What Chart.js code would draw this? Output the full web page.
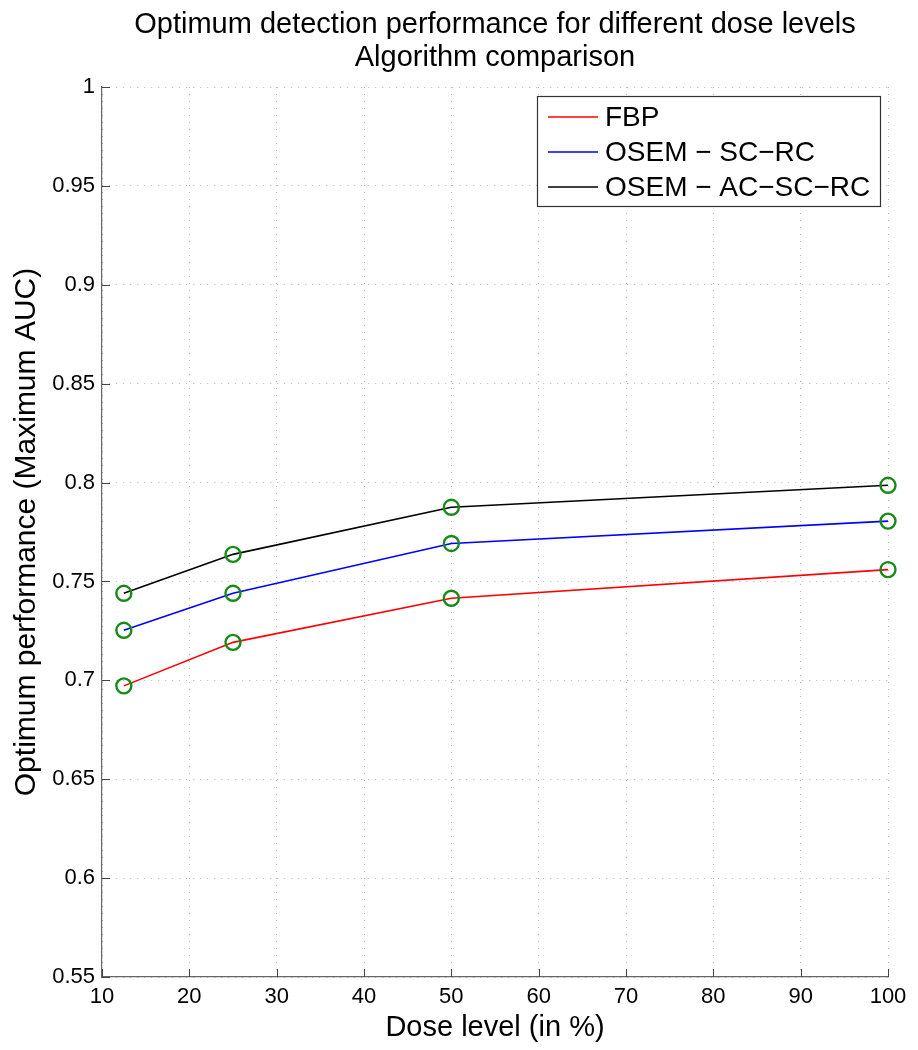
<!DOCTYPE html>
<html>
<head>
<meta charset="utf-8">
<script src="https://cdn.jsdelivr.net/npm/chart.js@4/dist/chart.umd.min.js"></script>
<style>
  html, body { margin: 0; padding: 0; background: #fff; }
  #wrap { width: 918px; height: 1050px; }
</style>
</head>
<body>
<div id="wrap"><canvas id="myChart" width="918" height="1050"></canvas></div>
<script>
// values
const doses = [12.5, 25, 50, 100];
const fbp = [0.6972, 0.7192, 0.7415, 0.7560];
const osemScRc = [0.7253, 0.7440, 0.7692, 0.7805];
const osemAcScRc = [0.7440, 0.7637, 0.7875, 0.7986];

const seriesNames = ['FBP', 'OSEM \u2212 SC\u2212RC', 'OSEM \u2212 AC\u2212SC\u2212RC'];
const seriesColors = ['#ff0000', '#0000ff', '#000000'];

const xTicks = [10, 20, 30, 40, 50, 60, 70, 80, 90, 100];
const yTicks = [0.55, 0.6, 0.65, 0.7, 0.75, 0.8, 0.85, 0.9, 0.95, 1];

const titleLines = ['Optimum detection performance for different dose levels', 'Algorithm comparison'];

const FONT = '"Liberation Sans", Arial, Helvetica, sans-serif';

function toPoints(ys) {
  return doses.map((d, i) => ({ x: d, y: ys[i] }));
}

// two-line title centred over the axes (not over the whole canvas)
const axesTitle = {
  id: 'axesTitle',
  afterDraw(chart) {
    const { ctx, chartArea: a } = chart;
    const cx = (a.left + a.right) / 2;
    ctx.save();
    ctx.font = '29px ' + FONT;
    ctx.fillStyle = '#000';
    ctx.textAlign = 'center';
    ctx.textBaseline = 'middle';
    titleLines.forEach((t, i) => ctx.fillText(t, cx, 25 + i * 33));
    ctx.restore();
  }
};

// MATLAB style: ticks pointing inward on left & bottom axes
const innerTicks = {
  id: 'innerTicks',
  afterDatasetsDraw(chart) {
    const { ctx, chartArea: a, scales } = chart;
    ctx.save();
    ctx.strokeStyle = '#444';
    ctx.lineWidth = 1;
    ctx.beginPath();
    xTicks.forEach(v => {
      const x = Math.round(scales.x.getPixelForValue(v)) + 0.5;
      ctx.moveTo(x, a.bottom);
      ctx.lineTo(x, a.bottom - 8);
    });
    yTicks.forEach(v => {
      const y = Math.round(scales.y.getPixelForValue(v)) + 0.5;
      ctx.moveTo(a.left, y);
      ctx.lineTo(a.left + 8, y);
    });
    ctx.stroke();
    ctx.restore();
  }
};

// legend box in the upper right corner of the axes
const boxLegend = {
  id: 'boxLegend',
  afterDraw(chart) {
    const { ctx, chartArea: a } = chart;
    const left = a.right - 351, top = a.top + 9, w = 343, h = 110;
    ctx.save();
    ctx.fillStyle = '#fff';
    ctx.fillRect(left, top, w, h);
    ctx.strokeStyle = '#333';
    ctx.lineWidth = 1.2;
    ctx.strokeRect(left + 0.5, top + 0.5, w, h);
    ctx.font = '28px ' + FONT;
    ctx.textBaseline = 'middle';
    chart.data.datasets.forEach((ds, i) => {
      const y = top + 21 + i * 35;
      ctx.strokeStyle = ds.borderColor;
      ctx.lineWidth = 1.6;
      ctx.beginPath();
      ctx.moveTo(left + 11, y);
      ctx.lineTo(left + 61, y);
      ctx.stroke();
      ctx.fillStyle = '#000';
      ctx.fillText(ds.label, left + 68, y + 1);
    });
    ctx.restore();
  }
};

const gridStyle = {
  color: '#b4b4b4',
  lineWidth: 1,
  drawTicks: false
};

const ctx = document.getElementById('myChart').getContext('2d');
new Chart(ctx, {
  type: 'line',
  data: {
    datasets: [fbp, osemScRc, osemAcScRc].map((ys, i) => ({
      label: seriesNames[i],
      data: toPoints(ys),
      borderColor: seriesColors[i],
      borderWidth: 1.6,
      pointRadius: 7.5,
      pointBorderWidth: 2.4,
      pointBorderColor: '#178a17',
      pointBackgroundColor: 'rgba(0,0,0,0)',
      pointHoverRadius: 7.5,
      clip: false,
      tension: 0
    }))
  },
  options: {
    responsive: false,
    animation: false,
    layout: { padding: { left: 0, right: 30, top: 87, bottom: 0 } },
    plugins: {
      legend: { display: false },
      tooltip: { enabled: false },
      title: { display: false }
    },
    scales: {
      x: {
        type: 'linear',
        min: 10,
        max: 100,
        afterBuildTicks: s => { s.ticks = xTicks.map(v => ({ value: v })); },
        afterFit: s => { s.height = 73; },
        ticks: {
          color: '#000',
          padding: 7,
          maxRotation: 0,
          font: { family: FONT, size: 22 },
          callback: v => String(v)
        },
        grid: gridStyle,
        border: { display: true, color: '#666', width: 1.2, dash: [1, 6] },
        title: {
          display: true,
          text: 'Dose level (in %)',
          color: '#000',
          font: { family: FONT, size: 29 },
          padding: { top: 0, bottom: 5 }
        }
      },
      y: {
        type: 'linear',
        min: 0.55,
        max: 1,
        afterBuildTicks: s => { s.ticks = yTicks.map(v => ({ value: v })); },
        afterFit: s => { s.width = 102; },
        ticks: {
          color: '#000',
          padding: 7,
          font: { family: FONT, size: 22 },
          callback: v => String(Number(v.toFixed(2)))
        },
        grid: gridStyle,
        border: { display: true, color: '#666', width: 1.2, dash: [1, 6] },
        title: {
          display: true,
          text: 'Optimum performance (Maximum AUC)',
          color: '#000',
          font: { family: FONT, size: 30 },
          padding: { top: 9, bottom: 0 }
        }
      }
    }
  },
  plugins: [innerTicks, boxLegend, axesTitle]
});
</script>
</body>
</html>
